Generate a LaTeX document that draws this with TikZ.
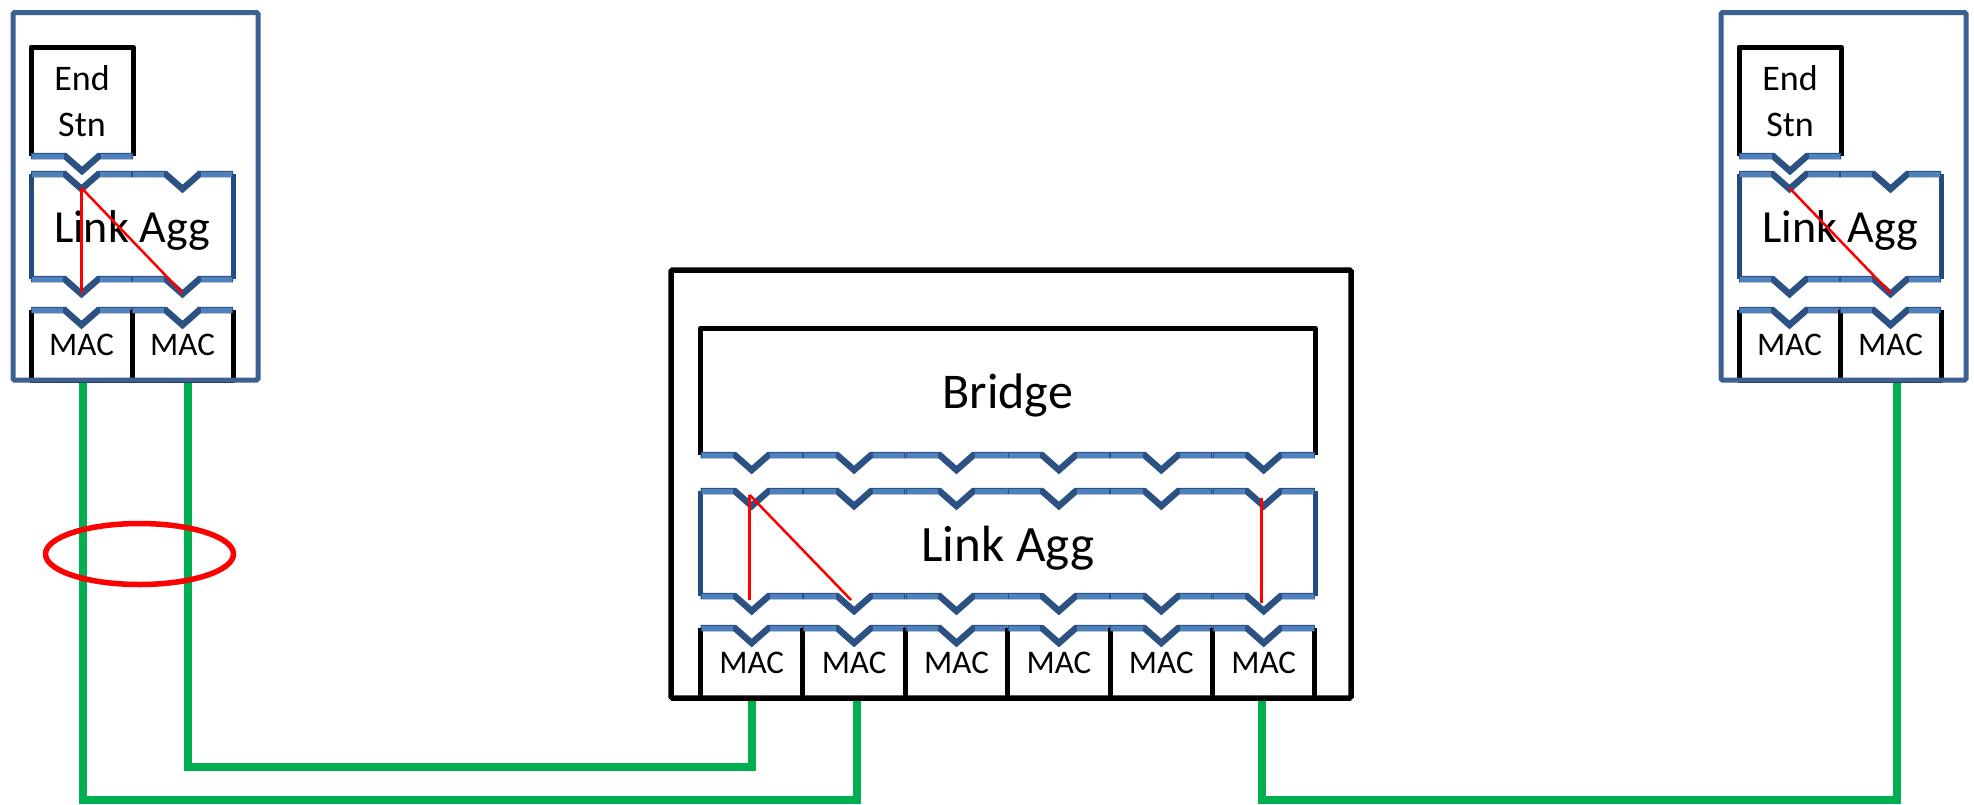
\documentclass[tikz,border=0pt]{standalone}
\usepackage{fontspec}
\setmainfont{Carlito}
\usetikzlibrary{calc,shapes.geometric,backgrounds}
\definecolor{stblue}{RGB}{60,96,145}
\definecolor{sideblue}{RGB}{37,74,128}
\definecolor{nlight}{RGB}{79,129,189}
\definecolor{ndark}{RGB}{44,82,132}
\definecolor{wiregreen}{RGB}{0,176,80}
\tikzset{
  boxn/.style={draw=none, inner sep=0pt, outer sep=0pt, rectangle},
  macbox/.style={boxn, minimum height=70pt, font=\fontsize{33}{40}\selectfont, text depth=0pt},
  blackside/.style={draw=black, line width=5pt, line join=round},
  blueside/.style={draw=sideblue, line width=5pt},
  notchdark/.style={draw=ndark, line width=6.5pt, line join=miter},
  notchlight/.style={draw=nlight, line width=5pt, shorten <=1.2pt, shorten >=1.5pt},
  notchlightb/.style={draw=nlight, line width=5pt, shorten <=1.5pt, shorten >=1.2pt},
  stationline/.style={draw=stblue, line width=5pt, rounded corners=1.5pt},
  bridgeline/.style={draw=black, line width=5.5pt, rounded corners=1.5pt},
  redl/.style={draw=red, line width=2.5pt},
  wire/.style={draw=wiregreen, line width=8pt, line join=miter},
}
\newcommand\notchseg[2]{%
  \draw[notchdark] (#1) -- ($(#1)!0.5!(#2)+(-17,0)$) -- ($(#1)!0.5!(#2)+(0,15)$) -- ($(#1)!0.5!(#2)+(17,0)$) -- (#2);
  \draw[notchlight] (#1) -- ($(#1)!0.5!(#2)+(-17,0)$);
  \draw[notchlightb] ($(#1)!0.5!(#2)+(17,0)$) -- (#2);
}
\newcommand\station[2]{%
  \begin{scope}[xshift=#2pt]
    \node[boxn, minimum width=245pt, minimum height=367.5pt] (#1st) at (135.5,196.25) {};
    \node[boxn, minimum width=102pt, minimum height=109pt, align=center, font=\fontsize{36}{46}\selectfont] (#1es) at (82,101.5) {End\\Stn};
    \node[boxn, minimum width=202pt, minimum height=105pt, font=\fontsize{46}{55}\selectfont, text depth=0pt] (#1la) at (132,226.5) {Link Agg};
    \node[macbox, minimum width=101pt] (#1m1) at (81.5,345) {MAC};
    \node[macbox, minimum width=101pt] (#1m2) at (182.5,345) {MAC};
  \end{scope}
  \draw[blackside] (#1es.south west) -- (#1es.north west) -- (#1es.north east) -- (#1es.south east);
  \notchseg{#1es.south west}{#1es.south east}
  \draw[blueside] (#1la.north west) -- (#1la.south west) (#1la.north east) -- (#1la.south east);
  \foreach \m in {#1m1,#1m2}{%
    \notchseg{\m.west |- #1la.north}{\m.east |- #1la.north}
    \notchseg{\m.west |- #1la.south}{\m.east |- #1la.south}
  }
  \foreach \m in {#1m1,#1m2}{%
    \draw[blackside] (\m.north west) -- (\m.south west) -- (\m.south east) -- (\m.north east);
    \notchseg{\m.north west}{\m.north east}
  }
}
\begin{document}
\begin{tikzpicture}[x=1pt,y=-1pt]
\useasboundingbox (0,0) rectangle (1974,804);

% end stations
\station{l}{0}
\station{r}{1708}

% bridge
\node[boxn, minimum width=680pt, minimum height=428pt] (bo) at (1011,484) {};
\node[boxn, minimum width=614.5pt, minimum height=127pt, font=\fontsize{50}{60}\selectfont, text depth=0pt] (bb) at (1007.75,391.5) {Bridge};
\node[boxn, minimum width=614.5pt, minimum height=105pt, font=\fontsize{51}{61}\selectfont, text depth=0pt] (bla) at (1007.75,543.5) {Link Agg};
\foreach \i in {1,...,6} \node[macbox, minimum width=102.4pt] (bm\i) at ({700.5+102.4*(\i-0.5)},663) {MAC};

\draw[blackside] (bb.south west) -- (bb.north west) -- (bb.north east) -- (bb.south east);
\foreach \i in {1,...,6} {\notchseg{bm\i.west |- bb.south}{bm\i.east |- bb.south}}
\draw[blueside] (bla.north west) -- (bla.south west) (bla.north east) -- (bla.south east);
\foreach \i in {1,...,6} {%
  \notchseg{bm\i.west |- bla.north}{bm\i.east |- bla.north}
  \notchseg{bm\i.west |- bla.south}{bm\i.east |- bla.south}
}
\foreach \i in {1,...,6} {%
  \draw[blackside] (bm\i.north west) -- (bm\i.south west) -- (bm\i.south east) -- (bm\i.north east);
  \notchseg{bm\i.north west}{bm\i.north east}
}

% red mapping lines
\draw[redl] ($(lm1.north |- lla.north)+(0,14)$) -- ($(lm1.north |- lla.south)+(0,14)$);
\draw[redl] ($(lm1.north |- lla.north)+(0,14)$) -- ($(lm2.north |- lla.south)+(0,14)$);
\draw[redl] ($(rm1.north |- rla.north)+(0,14)$) -- ($(rm2.north |- rla.south)+(0,14)$);
\draw[redl] ($(bm1.north |- bla.north)+(-2,4)$) -- ($(bm1.north |- bla.south)+(-2,4)$);
\draw[redl] ($(bm1.north |- bla.north)+(-2,4)$) -- ($(bm2.north |- bla.south)+(-3,4)$);
\draw[redl] ($(bm6.north |- bla.north)+(-2,7)$) -- ($(bm6.north |- bla.south)+(-2,7)$);

% outer boxes
\draw[stationline] (lst.north west) rectangle (lst.south east);
\draw[stationline] (rst.north west) rectangle (rst.south east);
\draw[bridgeline] (bo.north west) rectangle (bo.south east);

% links
\coordinate (yA) at (0,800);
\coordinate (yB) at (0,767);
\begin{pgfonlayer}{background}
\draw[wire] ($(lm1.south)+(1.5,0)$) -- ($(lm1.south |- yA)+(1.5,0)$) -| ($(bm2.south)+(3,0)$);
\draw[wire] ($(lm2.south)+(5.5,0)$) -- ($(lm2.south |- yB)+(5.5,0)$) -| (bm1.south);
\draw[wire] ($(rm2.south)+(6,0)$) -- ($(rm2.south |- yA)+(6,0)$) -| ($(bm6.south)+(-2,0)$);
\end{pgfonlayer}

% aggregation marker
\node[ellipse, draw=red, line width=5.5pt, minimum width=188pt, minimum height=61pt, inner sep=0pt] (lag) at (139.5,554) {};
\end{tikzpicture}
\end{document}
